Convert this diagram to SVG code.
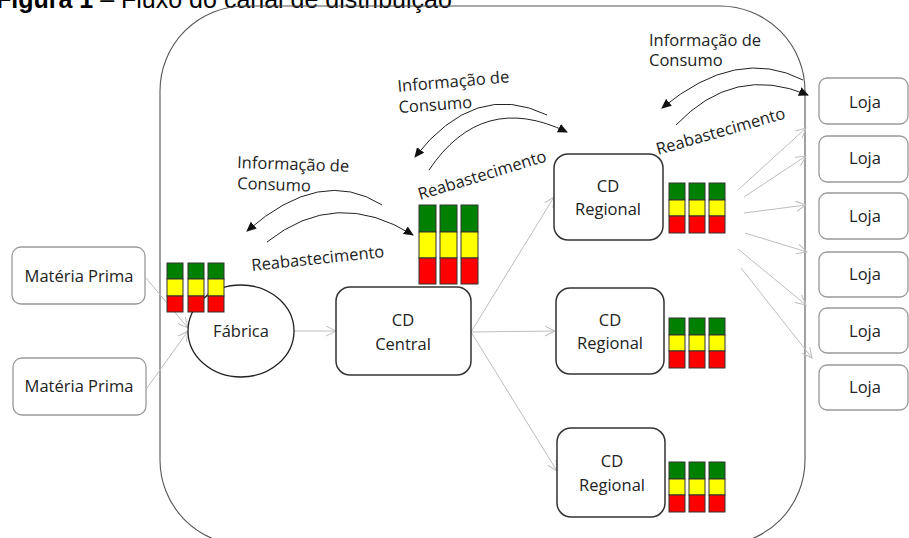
<svg xmlns="http://www.w3.org/2000/svg" width="909" height="538" viewBox="0 0 909 538">
<style>
.t{font-family:"Open Sans","Liberation Sans",sans-serif;font-size:16.5px;fill:#222}
.c{text-anchor:middle}
.box{fill:#fff;stroke:#333;stroke-width:1.5}
.gbox{fill:#fff;stroke:#999;stroke-width:1.3}
.conn{stroke:#bdbdbd;stroke-width:1;fill:none;marker-end:url(#open)}
.curve{stroke:#222;stroke-width:1;fill:none;marker-end:url(#tri)}
.g{fill:#008000;stroke:#333;stroke-width:1}
.y{fill:#ffff00;stroke:#333;stroke-width:1}
.r{fill:#ff0000;stroke:#333;stroke-width:1}
</style>
<defs>
<marker id="open" markerUnits="userSpaceOnUse" markerWidth="12" markerHeight="12" refX="10" refY="5" orient="auto" viewBox="0 0 12 10">
<path d="M0,0 L10,5 L0,10" fill="none" stroke="#bdbdbd" stroke-width="1"/>
</marker>
<marker id="tri" markerUnits="userSpaceOnUse" markerWidth="11" markerHeight="10" refX="9" refY="4.5" orient="auto" viewBox="0 0 11 9">
<path d="M0,0 L10,4.5 L0,9 z" fill="#111"/>
</marker>
</defs>
<rect width="909" height="538" fill="#fff"/>
<text x="-4" y="8" font-family="Liberation Sans, Arial, sans-serif" font-size="25" fill="#000"><tspan font-weight="bold">Figura 1</tspan> – Fluxo do canal de distribuição</text>
<g id="boundary">
<rect x="160" y="6" width="645" height="539" rx="85" ry="85" fill="none" stroke="#555" stroke-width="1.1"/>
</g>
<g id="connectors">
<line class="conn" x1="146" y1="278" x2="188" y2="328"/>
<line class="conn" x1="147" y1="388" x2="188" y2="331"/>
<line class="conn" x1="294" y1="331" x2="336" y2="331"/>
<line class="conn" x1="471" y1="332" x2="554" y2="197"/>
<line class="conn" x1="471" y1="332" x2="555" y2="331"/>
<line class="conn" x1="471" y1="332" x2="557" y2="471"/>
<line class="conn" x1="738" y1="190" x2="806" y2="128"/>
<line class="conn" x1="744" y1="197" x2="806" y2="156"/>
<line class="conn" x1="744" y1="213" x2="806" y2="205"/>
<line class="conn" x1="745" y1="233" x2="807" y2="252"/>
<line class="conn" x1="738" y1="249" x2="806" y2="305"/>
<line class="conn" x1="741" y1="268" x2="812" y2="358"/>
<path class="curve" d="M382,205 Q321,166 247,231"/>
<path class="curve" d="M267,242 Q336,187 413,235"/>
<path class="curve" d="M547,115 Q475,80 415,157"/>
<path class="curve" d="M429,170 Q482,91 567,132"/>
<path class="curve" d="M803,80 Q737,46 662,108"/>
<path class="curve" d="M676,125 Q734,64 808,95"/>
</g>
<g id="labels">
<text class="t" transform="translate(237,168) rotate(2)">Informação de</text>
<text class="t" transform="translate(237,189) rotate(2)">Consumo</text>
<text class="t" transform="translate(252,271) rotate(-6)">Reabastecimento</text>
<text class="t" transform="translate(398,92) rotate(-5)">Informação de</text>
<text class="t" transform="translate(399,113) rotate(-4)">Consumo</text>
<text class="t" transform="translate(420,200) rotate(-17)">Reabastecimento</text>
<text class="t" x="649" y="46">Informação de</text>
<text class="t" x="649" y="66">Consumo</text>
<text class="t" transform="translate(658,155) rotate(-16)">Reabastecimento</text>
</g>
<g id="mp1"><rect class="gbox" x="12" y="247" width="133" height="57" rx="9"/><text class="t c" x="79" y="282">Matéria Prima</text></g>
<g id="mp2"><rect class="gbox" x="13" y="358" width="133" height="57" rx="9"/><text class="t c" x="79" y="392">Matéria Prima</text></g>
<g id="fabrica"><ellipse cx="241" cy="331" rx="53" ry="46" fill="#fff" stroke="#222" stroke-width="1.3"/><text class="t c" x="241" y="337">Fábrica</text></g>
<g id="stock-fabrica">
<rect class="g" x="167" y="263" width="16" height="16"/><rect class="y" x="167" y="279" width="16" height="17"/><rect class="r" x="167" y="296" width="16" height="16"/>
<rect class="g" x="188" y="263" width="16" height="16"/><rect class="y" x="188" y="279" width="16" height="17"/><rect class="r" x="188" y="296" width="16" height="16"/>
<rect class="g" x="208" y="263" width="16" height="16"/><rect class="y" x="208" y="279" width="16" height="17"/><rect class="r" x="208" y="296" width="16" height="16"/>
</g>
<g id="central"><rect class="box" x="336" y="287" width="135" height="88" rx="14"/><text class="t c" x="403" y="326">CD</text><text class="t c" x="403" y="350">Central</text></g>
<g id="stock-central">
<rect class="g" x="419" y="205" width="17" height="27"/><rect class="y" x="419" y="232" width="17" height="26"/><rect class="r" x="419" y="258" width="17" height="26"/>
<rect class="g" x="440" y="205" width="17" height="27"/><rect class="y" x="440" y="232" width="17" height="26"/><rect class="r" x="440" y="258" width="17" height="26"/>
<rect class="g" x="461" y="205" width="17" height="27"/><rect class="y" x="461" y="232" width="17" height="26"/><rect class="r" x="461" y="258" width="17" height="26"/>
</g>
<g id="reg1"><rect class="box" x="554" y="154" width="109" height="86" rx="14"/><text class="t c" x="608" y="192">CD</text><text class="t c" x="608" y="215">Regional</text></g>
<g id="stock-reg1">
<rect class="g" x="669" y="183" width="16" height="17"/><rect class="y" x="669" y="200" width="16" height="16"/><rect class="r" x="669" y="216" width="16" height="17"/>
<rect class="g" x="689" y="183" width="16" height="17"/><rect class="y" x="689" y="200" width="16" height="16"/><rect class="r" x="689" y="216" width="16" height="17"/>
<rect class="g" x="709" y="183" width="16" height="17"/><rect class="y" x="709" y="200" width="16" height="16"/><rect class="r" x="709" y="216" width="16" height="17"/>
</g>
<g id="reg2"><rect class="box" x="556" y="288" width="108" height="86" rx="14"/><text class="t c" x="610" y="326">CD</text><text class="t c" x="610" y="349">Regional</text></g>
<g id="stock-reg2">
<rect class="g" x="669" y="318" width="16" height="17"/><rect class="y" x="669" y="335" width="16" height="16"/><rect class="r" x="669" y="351" width="16" height="17"/>
<rect class="g" x="689" y="318" width="16" height="17"/><rect class="y" x="689" y="335" width="16" height="16"/><rect class="r" x="689" y="351" width="16" height="17"/>
<rect class="g" x="709" y="318" width="16" height="17"/><rect class="y" x="709" y="335" width="16" height="16"/><rect class="r" x="709" y="351" width="16" height="17"/>
</g>
<g id="reg3"><rect class="box" x="557" y="428" width="108" height="89" rx="14"/><text class="t c" x="612" y="467">CD</text><text class="t c" x="612" y="491">Regional</text></g>
<g id="stock-reg3">
<rect class="g" x="669" y="462" width="16" height="17"/><rect class="y" x="669" y="479" width="16" height="16"/><rect class="r" x="669" y="495" width="16" height="17"/>
<rect class="g" x="689" y="462" width="16" height="17"/><rect class="y" x="689" y="479" width="16" height="16"/><rect class="r" x="689" y="495" width="16" height="17"/>
<rect class="g" x="709" y="462" width="16" height="17"/><rect class="y" x="709" y="479" width="16" height="16"/><rect class="r" x="709" y="495" width="16" height="17"/>
</g>
<g id="loja1"><rect class="gbox" x="819" y="78" width="89" height="46" rx="8"/><text class="t c" x="865" y="108">Loja</text></g>
<g id="loja2"><rect class="gbox" x="819" y="136" width="89" height="46" rx="8"/><text class="t c" x="865" y="164">Loja</text></g>
<g id="loja3"><rect class="gbox" x="819" y="193" width="89" height="46" rx="8"/><text class="t c" x="865" y="222">Loja</text></g>
<g id="loja4"><rect class="gbox" x="819" y="252" width="89" height="45" rx="8"/><text class="t c" x="865" y="280">Loja</text></g>
<g id="loja5"><rect class="gbox" x="819" y="308" width="89" height="45" rx="8"/><text class="t c" x="865" y="337">Loja</text></g>
<g id="loja6"><rect class="gbox" x="819" y="365" width="89" height="45" rx="8"/><text class="t c" x="865" y="393">Loja</text></g>
</svg>
